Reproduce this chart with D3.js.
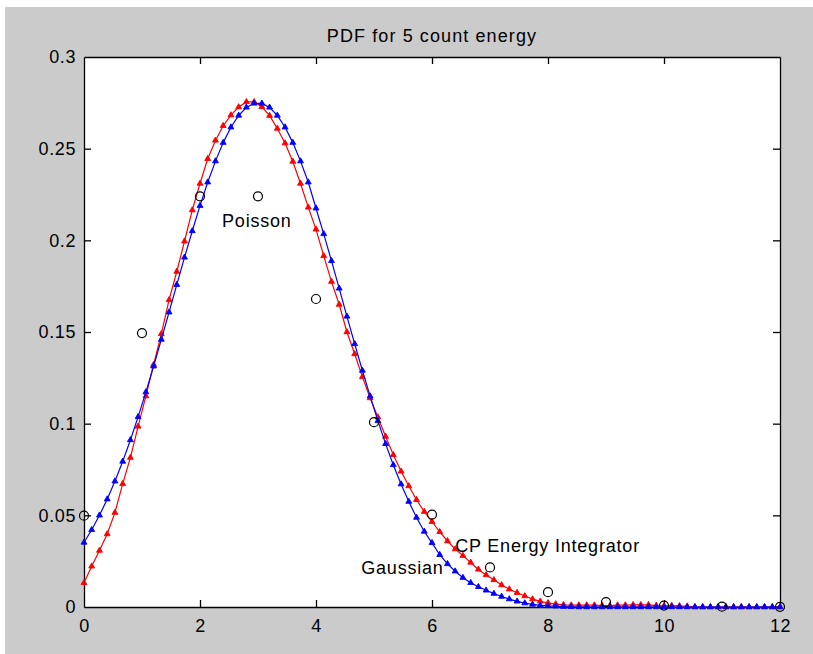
<!DOCTYPE html>
<html>
<head>
<meta charset="utf-8">
<script src="https://cdn.jsdelivr.net/npm/d3@7"></script>
<style>
  html, body { margin: 0; padding: 0; background: #ffffff; }
  svg { display: block; }
  text { font-family: "Liberation Sans", Arial, Helvetica, sans-serif; fill: #000; }
</style>
</head>
<body>
<svg id="chart" width="813" height="654"></svg>
<script>
// ---------------- data ----------------
const title = "PDF for 5 count energy";
const xTicks = [0, 2, 4, 6, 8, 10, 12];
const yTicks = [0, 0.05, 0.1, 0.15, 0.2, 0.25, 0.3];
const yTickLabels = ["0", "0.05", "0.1", "0.15", "0.2", "0.25", "0.3"];

// Poisson points (circles)
const poissonX = [0, 1, 2, 3, 4, 5, 6, 7, 8, 9, 10, 11, 12];
const poissonY = [0.0498, 0.1494, 0.2240, 0.2240, 0.1680, 0.1008, 0.0504, 0.0216, 0.0081, 0.0027, 0.0008, 0.0002, 0.0001];

// sample positions of the two curves (step 2/15)
const curveX = [0, 0.133, 0.267, 0.4, 0.533, 0.667, 0.8, 0.933, 1.067, 1.2,
  1.333, 1.467, 1.6, 1.733, 1.867, 2, 2.133, 2.267, 2.4, 2.533,
  2.667, 2.8, 2.933, 3.067, 3.2, 3.333, 3.467, 3.6, 3.733, 3.867,
  4, 4.133, 4.267, 4.4, 4.533, 4.667, 4.8, 4.933, 5.067, 5.2,
  5.333, 5.467, 5.6, 5.733, 5.867, 6, 6.133, 6.267, 6.4, 6.533,
  6.667, 6.8, 6.933, 7.067, 7.2, 7.333, 7.467, 7.6, 7.733, 7.867,
  8, 8.133, 8.267, 8.4, 8.533, 8.667, 8.8, 8.933, 9.067, 9.2,
  9.333, 9.467, 9.6, 9.733, 9.867, 10, 10.133, 10.267, 10.4, 10.533,
  10.667, 10.8, 10.933, 11.067, 11.2, 11.333, 11.467, 11.6, 11.733, 11.867, 12];

// Gaussian (blue)
const gaussianY = [0.0352, 0.0421, 0.0500, 0.0588, 0.0686, 0.0794, 0.0911, 0.1037, 0.1172, 0.1313,
  0.1459, 0.1608, 0.1758, 0.1907, 0.2051, 0.2189, 0.2317, 0.2432, 0.2533, 0.2617,
  0.2681, 0.2725, 0.2747, 0.2747, 0.2725, 0.2681, 0.2617, 0.2533, 0.2432, 0.2317,
  0.2175, 0.2035, 0.1888, 0.1738, 0.1585, 0.1435, 0.1290, 0.1150, 0.1015, 0.0890,
  0.0775, 0.0670, 0.0575, 0.0488, 0.0412, 0.0350, 0.0285, 0.0235, 0.0195, 0.0160,
  0.0132, 0.0110, 0.0091, 0.0073, 0.0057, 0.0043, 0.0031, 0.0021, 0.0014, 0.0009,
  0.0006, 0.0004, 0.0002, 0.0001, 0, 0, 0, 0, 0, 0,
  0, 0, 0, 0, 0, 0, 0, 0, 0, 0,
  0, 0, 0, 0, 0, 0, 0, 0, 0, 0, 0];

// CP Energy Integrator (red)
const cpY = [0.0132, 0.0222, 0.0308, 0.0398, 0.0515, 0.0672, 0.0815, 0.0985, 0.1150, 0.1322,
  0.1490, 0.1675, 0.1830, 0.1995, 0.2165, 0.2310, 0.2445, 0.2545, 0.2625, 0.2683,
  0.2727, 0.2755, 0.2755, 0.2728, 0.2680, 0.2610, 0.2530, 0.2430, 0.2310, 0.2180,
  0.2060, 0.1915, 0.1775, 0.1650, 0.1500, 0.1380, 0.1255, 0.1140, 0.1035, 0.0930,
  0.0830, 0.0740, 0.0660, 0.0585, 0.0520, 0.0465, 0.0410, 0.0360, 0.0316, 0.0280,
  0.0243, 0.0205, 0.0175, 0.0148, 0.0120, 0.0097, 0.0078, 0.0060, 0.0043, 0.0031,
  0.0022, 0.0016, 0.0012, 0.0010, 0.0010, 0.0010, 0.0010, 0.0008, 0.0008, 0.0010,
  0.0010, 0.0012, 0.0012, 0.0012, 0.0008, 0.0006, 0.0008, 0.0006, 0.0004, 0,
  0, 0, 0, 0, 0, 0, 0, 0, 0, 0, 0];

// annotations (data coordinates, left-aligned, vertically centred)
const annotations = [
  { text: "Poisson", x: 2.38, y: 0.211 },
  { text: "Gaussian", x: 4.78, y: 0.0213 },
  { text: "CP Energy Integrator", x: 6.40, y: 0.0338 }
];

// ---------------- drawing ----------------
const svg = d3.select("#chart");
const W = 813, H = 654;
const plot = { left: 84, right: 780, top: 57, bottom: 607 };

svg.append("rect").attr("x", 5).attr("y", 7).attr("width", W - 5).attr("height", H - 7)
  .attr("fill", "#cbcbcb");

const x = d3.scaleLinear().domain([0, 12]).range([plot.left, plot.right]);
const y = d3.scaleLinear().domain([0, 0.3]).range([plot.bottom, plot.top]);

svg.append("rect")
  .attr("x", plot.left).attr("y", plot.top)
  .attr("width", plot.right - plot.left).attr("height", plot.bottom - plot.top)
  .attr("fill", "#ffffff");

const fontSize = 18;
const tickLen = 7;

// axes (ticks inside, mirrored box)
const gB = svg.append("g").attr("transform", `translate(0,${plot.bottom})`)
  .call(d3.axisBottom(x).tickValues(xTicks).tickSizeInner(-tickLen).tickSizeOuter(0).tickPadding(12));
const gT = svg.append("g").attr("transform", `translate(0,${plot.top})`)
  .call(d3.axisTop(x).tickValues(xTicks).tickSizeInner(-tickLen).tickSizeOuter(0).tickFormat(""));
const gL = svg.append("g").attr("transform", `translate(${plot.left},0)`)
  .call(d3.axisLeft(y).tickValues(yTicks).tickSizeInner(-tickLen).tickSizeOuter(0).tickPadding(8)
    .tickFormat((d, i) => yTickLabels[i]));
const gR = svg.append("g").attr("transform", `translate(${plot.right},0)`)
  .call(d3.axisRight(y).tickValues(yTicks).tickSizeInner(-tickLen).tickSizeOuter(0).tickFormat(""));

[gB, gT, gL, gR].forEach(g => {
  g.selectAll("path.domain").attr("stroke", "#000").attr("stroke-width", 1.3);
  g.selectAll(".tick line").attr("stroke", "#000").attr("stroke-width", 1.3);
  g.selectAll("text").attr("font-size", fontSize).attr("font-family", '"Liberation Sans", Arial, sans-serif')
    .attr("fill", "#111").attr("letter-spacing", "0.6px");
});
// hide ticks at the ends that would overlap the box corners
gB.selectAll(".tick").filter(d => d === 0 || d === 12).select("line").remove();
gT.selectAll(".tick").filter(d => d === 0 || d === 12).select("line").remove();
gL.selectAll(".tick").filter(d => d === 0 || d === 0.3).select("line").remove();
gR.selectAll(".tick").filter(d => d === 0 || d === 0.3).select("line").remove();

// title
svg.append("text")
  .attr("x", (plot.left + plot.right) / 2).attr("y", 42)
  .attr("text-anchor", "middle").attr("font-size", fontSize)
  .attr("letter-spacing", "1.1px")
  .text(title);

const line = d3.line().x(d => x(d[0])).y(d => y(d[1]));
const tri = d3.symbol().type(d3.symbolTriangle).size(15);

function drawSeries(values, color) {
  const pts = curveX.map((cx, i) => [cx, values[i]]);
  svg.append("path").datum(pts).attr("d", line)
    .attr("fill", "none").attr("stroke", color).attr("stroke-width", 1.2);
  svg.append("g").selectAll("path").data(pts).join("path")
    .attr("d", tri)
    .attr("transform", d => `translate(${x(d[0])},${y(d[1])})`)
    .attr("fill", color).attr("stroke", color).attr("stroke-width", 0.9);
}

drawSeries(cpY, "#ff0000");
drawSeries(gaussianY, "#0000ff");

// Poisson circles
svg.append("g").selectAll("circle").data(poissonX.map((px, i) => [px, poissonY[i]])).join("circle")
  .attr("cx", d => x(d[0])).attr("cy", d => y(d[1])).attr("r", 4.5)
  .attr("fill", "none").attr("stroke", "#000").attr("stroke-width", 1.2);

// annotations
svg.append("g").selectAll("text").data(annotations).join("text")
  .attr("x", d => x(d.x)).attr("y", d => y(d.y) + 6.5)
  .attr("font-size", fontSize)
  .attr("letter-spacing", "0.8px")
  .text(d => d.text);
</script>
</body>
</html>
